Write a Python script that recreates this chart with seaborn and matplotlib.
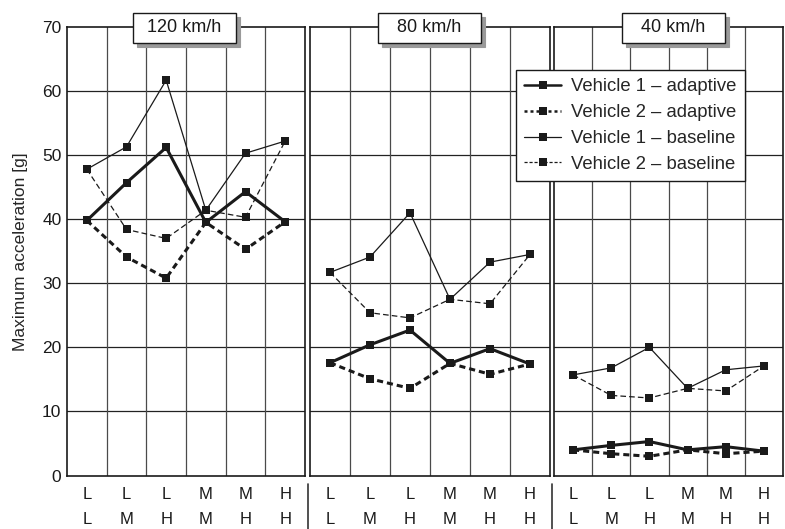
import numpy as np
import pandas as pd
import matplotlib
matplotlib.use('Agg')
import matplotlib.pyplot as plt
from matplotlib.lines import Line2D
from matplotlib.patches import Rectangle
import seaborn as sns

speeds = ['120 km/h', '80 km/h', '40 km/h']
cats = ['L\nL', 'L\nM', 'L\nH', 'M\nM', 'M\nH', 'H\nH']
series = ['Vehicle 1 – adaptive', 'Vehicle 2 – adaptive',
          'Vehicle 1 – baseline', 'Vehicle 2 – baseline']

# values, per speed
v1_adaptive = {
    '120 km/h': [39.8, 45.7, 51.2, 39.5, 44.3, 39.6],
    '80 km/h': [17.6, 20.4, 22.7, 17.5, 19.8, 17.4],
    '40 km/h': [4.0, 4.7, 5.3, 4.0, 4.5, 3.8],
}
v2_adaptive = {
    '120 km/h': [39.8, 34.1, 30.8, 39.5, 35.3, 39.6],
    '80 km/h': [17.6, 15.1, 13.6, 17.5, 15.8, 17.4],
    '40 km/h': [4.0, 3.4, 3.0, 4.0, 3.4, 3.8],
}
v1_baseline = {
    '120 km/h': [47.8, 51.3, 61.7, 41.4, 50.3, 52.2],
    '80 km/h': [31.7, 34.1, 41.0, 27.5, 33.3, 34.5],
    '40 km/h': [15.7, 16.8, 20.0, 13.6, 16.5, 17.1],
}
v2_baseline = {
    '120 km/h': [47.8, 38.4, 37.0, 41.4, 40.3, 52.2],
    '80 km/h': [31.7, 25.4, 24.6, 27.5, 26.8, 34.5],
    '40 km/h': [15.7, 12.5, 12.1, 13.6, 13.2, 17.1],
}
all_vals = [v1_adaptive, v2_adaptive, v1_baseline, v2_baseline]

rows = []
for name, vals in zip(series, all_vals):
    for sp in speeds:
        for i, v in enumerate(vals[sp]):
            rows.append({'series': name, 'speed': sp, 'pos': i, 'acc': v})
df = pd.DataFrame(rows)

sns.set_style('white')
plt.rcParams['font.family'] = ['Liberation Sans', 'DejaVu Sans']

ink = '#1a1a1a'
line_kw = {
    'Vehicle 1 – adaptive': dict(lw=2.2, ls='-'),
    'Vehicle 2 – adaptive': dict(lw=2.2, ls=(0, (2.0, 1.3))),
    'Vehicle 1 – baseline': dict(lw=0.9, ls='-'),
    'Vehicle 2 – baseline': dict(lw=0.9, ls=(0, (4.5, 2.5))),
}

W, H = 785, 529
fig = plt.figure(figsize=(W / 100, H / 100), dpi=100)
lefts = [67, 310, 554]
rights = [305, 550, 783]
box_cx = [184, 429, 673]
bottom = 1 - 475.5 / H
top = 1 - 27 / H
for k, sp in enumerate(speeds):
    ax = fig.add_axes([lefts[k] / W, bottom, (rights[k] - lefts[k]) / W, top - bottom])
    sub = df[df['speed'] == sp]
    for name in series:
        s = sub[sub['series'] == name]
        sns.lineplot(data=s, x='pos', y='acc', ax=ax, color=ink,
                     marker='s', markersize=5.5, markeredgewidth=0,
                     estimator=None, sort=False, legend=False,
                     linestyle=line_kw[name]['ls'], linewidth=line_kw[name]['lw'])
    ax.set_xlim(-0.5, 5.5)
    ax.set_ylim(0, 70)
    ax.set_yticks(np.arange(0, 71, 10))
    ax.set_xticks(np.arange(6))
    ax.set_xticklabels(cats, fontsize=12, linespacing=1.9)
    ax.grid(False)
    for yy in range(10, 70, 10):
        ax.axhline(yy, color='#222222', lw=0.9, zorder=0)
    for xx in np.arange(0.5, 5, 1):
        ax.axvline(xx, color='#4a4a4a', lw=0.9, zorder=0)
    ax.tick_params(axis='x', length=0, pad=8, colors=ink)
    ax.set_xlabel('')
    ax.set_ylabel('')
    for sp_name in ax.spines:
        ax.spines[sp_name].set_color(ink)
        ax.spines[sp_name].set_linewidth(1.2)
    if k == 0:
        ax.tick_params(axis='y', length=0, labelsize=12.5, colors=ink, pad=4)
        ax.set_ylabel('Maximum acceleration [g]', fontsize=12.5, labelpad=10)
    else:
        ax.tick_params(axis='y', length=0, labelleft=False)

    # panel title box with a grey shadow
    cx = box_cx[k]
    bw, bh = 103, 30
    fig.add_artist(Rectangle(((cx - bw / 2 + 4) / W, 1 - (43 + 4) / H), bw / W, bh / H,
                             transform=fig.transFigure, fc='#9a9a9a', ec='#9a9a9a',
                             lw=0.8, zorder=8))
    fig.add_artist(Rectangle(((cx - bw / 2) / W, 1 - 43 / H), bw / W, bh / H,
                             transform=fig.transFigure, fc='white', ec=ink,
                             lw=1.0, zorder=9))
    fig.text(cx / W, 1 - 28 / H, sp, ha='center', va='center', fontsize=13,
             color=ink, zorder=10)

# separators in the label area
for xpx in [307.5, 551.5]:
    fig.add_artist(Line2D([xpx / W, xpx / W], [0, 1 - 484 / H], color='#333333', lw=1.2))

leg_style = {
    'Vehicle 1 – adaptive': dict(lw=1.8, ls='-'),
    'Vehicle 2 – adaptive': dict(lw=1.8, ls=(0, (1.2, 1.2))),
    'Vehicle 1 – baseline': dict(lw=0.9, ls='-'),
    'Vehicle 2 – baseline': dict(lw=0.9, ls=(0, (2.5, 1.5))),
}
handles = [Line2D([], [], color=ink, marker='s', markersize=5.5, markeredgewidth=0,
                  linestyle=leg_style[n]['ls'], linewidth=leg_style[n]['lw'])
           for n in series]
leg = fig.legend(handles, series, loc='upper left', bbox_to_anchor=(516 / W, 1 - 70 / H),
                 fontsize=13.3, frameon=True, fancybox=False, framealpha=1,
                 edgecolor=ink, handlelength=2.0, handletextpad=0.55,
                 labelspacing=0.48, borderpad=0.45, borderaxespad=0)
leg.get_frame().set_linewidth(1.0)
leg.set_zorder(20)

fig.savefig('out.png', dpi=100)
